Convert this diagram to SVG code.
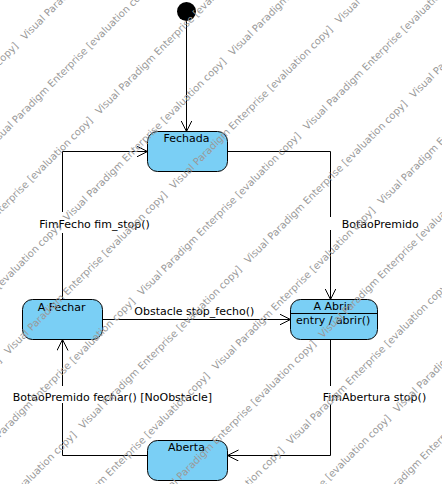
<svg xmlns="http://www.w3.org/2000/svg" width="442" height="484" viewBox="0 0 442 484">
<style>
.node rect.box{fill:#7acff5;stroke:#000;stroke-width:1}
.lbl{font-family:"DejaVu Sans",sans-serif;font-size:11px;fill:#000}
.ctr{text-anchor:middle}
.conn path{fill:none;stroke:#000;stroke-width:1;marker-end:url(#open)}
.bg{fill:#fff}
.wm{font-family:"DejaVu Sans",sans-serif;font-size:10px;fill:#9a9a9a}
</style>
<defs>
<marker id="open" viewBox="0 0 12 12" refX="11" refY="5.5" markerWidth="12" markerHeight="12" markerUnits="userSpaceOnUse" orient="auto">
<path d="M0,0 L11,5.5 L0,11" fill="none" stroke="#000" stroke-width="1"/>
</marker>
</defs>
<rect width="442" height="484" fill="#fff"/>
<g id="connectors" class="conn">
<path d="M186.5,21 V131.5"/>
<path d="M227.5,151.5 H330.5 V299.5"/>
<path d="M330.5,339.5 V455.5 H227.5"/>
<path d="M147.5,455.5 H62.5 V339.5"/>
<path d="M62.5,299.5 V151.5 H147.5"/>
<path d="M102.5,319.5 H290.5"/>
</g>
<g id="labels">
<rect class="bg" x="37" y="212" width="117" height="21"/>
<text class="lbl" x="39.3" y="228.3">FimFecho fim_stop()</text>
<rect class="bg" x="326" y="217" width="98" height="13"/>
<text class="lbl" x="341.7" y="228">BotaoPremido</text>
<text class="lbl" x="134.3" y="315">Obstacle stop_fecho()</text>
<rect class="bg" x="10" y="386" width="205" height="17"/>
<text class="lbl" x="12.7" y="400.7">BotaoPremido fechar() [NoObstacle]</text>
<rect class="bg" x="320" y="386" width="110" height="18"/>
<text class="lbl" x="322.7" y="400.7">FimAbertura stop()</text>
</g>
<g id="initial">
<circle cx="186.5" cy="11.5" r="9.5" fill="#000"/>
</g>
<g id="fechada" class="node">
<rect class="box" x="147.5" y="131.5" width="80" height="40" rx="10"/>
<text class="lbl ctr" x="186.5" y="142">Fechada</text>
</g>
<g id="a-fechar" class="node">
<rect class="box" x="22.5" y="299.5" width="80" height="40" rx="10"/>
<text class="lbl ctr" x="61.7" y="310.5">A Fechar</text>
</g>
<g id="a-abrir" class="node">
<rect class="box" x="290.5" y="299.5" width="87" height="40" rx="10"/>
<line x1="290.5" y1="313.5" x2="377.5" y2="313.5" stroke="#000"/>
<text class="lbl ctr" x="332.4" y="310">A Abrir</text>
<text class="lbl ctr" x="333.2" y="324">entry / abrir()</text>
</g>
<g id="aberta" class="node">
<rect class="box" x="147.5" y="440.5" width="80" height="40" rx="10"/>
<text class="lbl ctr" x="186.5" y="451">Aberta</text>
</g>
<g id="watermark" class="wm" transform="rotate(-45)">
<text y="-6.5"><tspan x="-343">Visual Paradigm Enterprise [evaluation copy]</tspan><tspan x="-109">Visual Paradigm Enterprise [evaluation copy]</tspan><tspan x="125">Visual Paradigm Enterprise [evaluation copy]</tspan></text>
<text y="46.2"><tspan x="-479">Visual Paradigm Enterprise [evaluation copy]</tspan><tspan x="-245">Visual Paradigm Enterprise [evaluation copy]</tspan><tspan x="-11">Visual Paradigm Enterprise [evaluation copy]</tspan><tspan x="223">Visual Paradigm Enterprise [evaluation copy]</tspan></text>
<text y="98.9"><tspan x="-343">Visual Paradigm Enterprise [evaluation copy]</tspan><tspan x="-109">Visual Paradigm Enterprise [evaluation copy]</tspan><tspan x="125">Visual Paradigm Enterprise [evaluation copy]</tspan></text>
<text y="151.6"><tspan x="-479">Visual Paradigm Enterprise [evaluation copy]</tspan><tspan x="-245">Visual Paradigm Enterprise [evaluation copy]</tspan><tspan x="-11">Visual Paradigm Enterprise [evaluation copy]</tspan><tspan x="223">Visual Paradigm Enterprise [evaluation copy]</tspan></text>
<text y="204.2"><tspan x="-343">Visual Paradigm Enterprise [evaluation copy]</tspan><tspan x="-109">Visual Paradigm Enterprise [evaluation copy]</tspan><tspan x="125">Visual Paradigm Enterprise [evaluation copy]</tspan></text>
<text y="256.9"><tspan x="-479">Visual Paradigm Enterprise [evaluation copy]</tspan><tspan x="-245">Visual Paradigm Enterprise [evaluation copy]</tspan><tspan x="-11">Visual Paradigm Enterprise [evaluation copy]</tspan><tspan x="223">Visual Paradigm Enterprise [evaluation copy]</tspan></text>
<text y="309.6"><tspan x="-343">Visual Paradigm Enterprise [evaluation copy]</tspan><tspan x="-109">Visual Paradigm Enterprise [evaluation copy]</tspan><tspan x="125">Visual Paradigm Enterprise [evaluation copy]</tspan></text>
<text y="362.3"><tspan x="-479">Visual Paradigm Enterprise [evaluation copy]</tspan><tspan x="-245">Visual Paradigm Enterprise [evaluation copy]</tspan><tspan x="-11">Visual Paradigm Enterprise [evaluation copy]</tspan><tspan x="223">Visual Paradigm Enterprise [evaluation copy]</tspan></text>
<text y="415"><tspan x="-343">Visual Paradigm Enterprise [evaluation copy]</tspan><tspan x="-109">Visual Paradigm Enterprise [evaluation copy]</tspan><tspan x="125">Visual Paradigm Enterprise [evaluation copy]</tspan></text>
<text y="467.6"><tspan x="-479">Visual Paradigm Enterprise [evaluation copy]</tspan><tspan x="-245">Visual Paradigm Enterprise [evaluation copy]</tspan><tspan x="-11">Visual Paradigm Enterprise [evaluation copy]</tspan><tspan x="223">Visual Paradigm Enterprise [evaluation copy]</tspan></text>
<text y="520.3"><tspan x="-343">Visual Paradigm Enterprise [evaluation copy]</tspan><tspan x="-109">Visual Paradigm Enterprise [evaluation copy]</tspan><tspan x="125">Visual Paradigm Enterprise [evaluation copy]</tspan></text>
<text y="573"><tspan x="-479">Visual Paradigm Enterprise [evaluation copy]</tspan><tspan x="-245">Visual Paradigm Enterprise [evaluation copy]</tspan><tspan x="-11">Visual Paradigm Enterprise [evaluation copy]</tspan><tspan x="223">Visual Paradigm Enterprise [evaluation copy]</tspan></text>
<text y="625.7"><tspan x="-343">Visual Paradigm Enterprise [evaluation copy]</tspan><tspan x="-109">Visual Paradigm Enterprise [evaluation copy]</tspan><tspan x="125">Visual Paradigm Enterprise [evaluation copy]</tspan></text>
<text y="678.4"><tspan x="-479">Visual Paradigm Enterprise [evaluation copy]</tspan><tspan x="-245">Visual Paradigm Enterprise [evaluation copy]</tspan><tspan x="-11">Visual Paradigm Enterprise [evaluation copy]</tspan><tspan x="223">Visual Paradigm Enterprise [evaluation copy]</tspan></text>
</g>
</svg>
